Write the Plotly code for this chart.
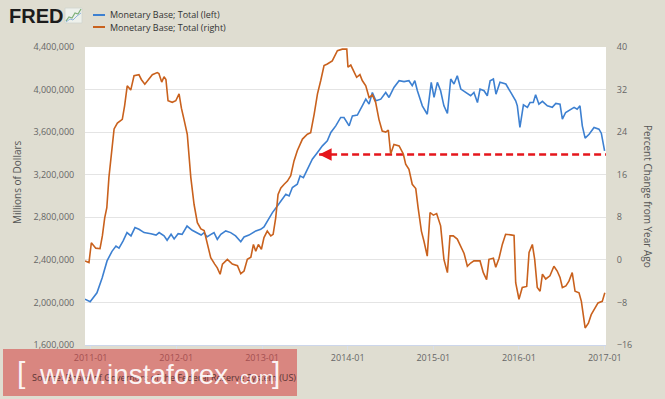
import plotly.graph_objects as go

# ---------------- data ----------------
base_dates = ["2010-12-08","2010-12-30","2011-01-28","2011-02-19","2011-03-12","2011-04-02","2011-04-19","2011-05-02",
"2011-05-19","2011-06-05","2011-06-22","2011-07-09","2011-07-26","2011-08-17","2011-09-15","2011-10-07","2011-10-20",
"2011-11-10","2011-11-23","2011-12-10","2011-12-23","2012-01-09","2012-01-26","2012-02-16","2012-03-09","2012-03-30",
"2012-04-16","2012-04-29","2012-05-11","2012-06-02","2012-06-10","2012-06-24","2012-07-09","2012-07-30","2012-08-20",
"2012-09-10","2012-10-02","2012-10-16","2012-11-06","2012-12-05","2012-12-26","2013-01-09","2013-01-23","2013-02-14",
"2013-03-07","2013-03-28","2013-04-12","2013-04-26","2013-05-10","2013-05-31","2013-06-12","2013-06-26","2013-07-13",
"2013-08-03","2013-08-25","2013-09-15","2013-10-06","2013-10-21","2013-11-11","2013-12-02","2013-12-16","2014-01-07",
"2014-01-21","2014-02-11","2014-03-04","2014-03-19","2014-04-02","2014-04-16","2014-05-01","2014-05-22","2014-06-12",
"2014-06-26","2014-07-17","2014-08-08","2014-08-29","2014-09-19","2014-10-03","2014-10-14","2014-10-25","2014-11-15",
"2014-12-06","2014-12-23","2015-01-04","2015-01-18","2015-02-01","2015-02-15","2015-03-02","2015-03-16","2015-03-30",
"2015-04-13","2015-04-28","2015-05-19","2015-06-09","2015-06-23","2015-07-08","2015-07-19","2015-08-05","2015-08-19",
"2015-08-31","2015-09-14","2015-09-25","2015-10-12","2015-11-06","2015-11-27","2015-12-18","2015-12-25","2016-01-05",
"2016-01-20","2016-02-06","2016-02-17","2016-03-02","2016-03-12","2016-03-26","2016-04-10","2016-05-01","2016-05-22",
"2016-06-06","2016-06-24","2016-07-04","2016-07-18","2016-08-09","2016-08-23","2016-09-05","2016-09-17","2016-09-27",
"2016-10-09","2016-10-26","2016-11-16","2016-12-07","2016-12-17","2016-12-31"]
base_values = [2030000,2007000,2090000,2230000,2390000,2480000,2530000,2510000,
2577000,2656000,2625000,2703000,2687000,2656000,2646000,2633000,2656000,
2625000,2584000,2640000,2597000,2646000,2640000,2718000,2678000,2656000,
2633000,2656000,2615000,2646000,2656000,2593000,2640000,2672000,2656000,
2625000,2571000,2615000,2633000,2672000,2687000,2709000,2765000,2844000,
2906000,2969000,3016000,3000000,3080000,3111000,3189000,3173000,3252000,
3346000,3409000,3471000,3518000,3597000,3659000,3738000,3738000,3659000,
3753000,3760000,3847000,3910000,3863000,3973000,3894000,3910000,3973000,
3926000,4020000,4083000,4075000,4083000,4036000,4083000,3989000,3847000,
3768000,4068000,3926000,4068000,3989000,3847000,3776000,4099000,4052000,
4130000,4005000,3973000,3942000,3973000,3878000,4005000,3989000,3942000,
4083000,4099000,3957000,4068000,4052000,3973000,3894000,3847000,3644000,
3857000,3832000,3878000,3878000,3951000,3863000,3889000,3847000,3833000,
3870000,3863000,3722000,3785000,3816000,3833000,3816000,3847000,3659000,
3544000,3580000,3644000,3628000,3590000,3424000]

yoy_dates = ["2010-12-08","2010-12-25","2011-01-04","2011-01-23","2011-02-10","2011-02-20","2011-03-02","2011-03-11",
"2011-03-20","2011-03-30","2011-04-11","2011-04-25","2011-05-16","2011-05-26","2011-06-06","2011-06-21","2011-07-05",
"2011-07-26","2011-08-05","2011-08-20","2011-09-07","2011-09-21","2011-10-12","2011-10-19","2011-10-31","2011-11-10",
"2011-11-18","2011-11-27","2011-12-15","2011-12-30","2012-01-13","2012-01-23","2012-02-03","2012-02-17","2012-03-03",
"2012-03-17","2012-03-31","2012-04-15","2012-04-29","2012-05-13","2012-05-27","2012-06-13","2012-06-24","2012-07-06",
"2012-07-16","2012-08-06","2012-08-27","2012-09-18","2012-10-02","2012-10-16","2012-10-30","2012-11-14","2012-11-25",
"2012-12-05","2012-12-16","2012-12-29","2013-01-09","2013-01-23","2013-02-07","2013-02-17","2013-02-28","2013-03-10",
"2013-03-22","2013-04-05","2013-04-19","2013-05-03","2013-05-17","2013-05-31","2013-06-22","2013-07-13","2013-07-27",
"2013-08-11","2013-08-25","2013-09-08","2013-09-22","2013-10-06","2013-10-27","2013-11-18","2013-12-09","2013-12-28",
"2014-01-02","2014-01-14","2014-01-25","2014-02-08","2014-02-22","2014-03-04","2014-03-19","2014-04-02","2014-04-16",
"2014-04-30","2014-05-14","2014-05-28","2014-06-12","2014-06-23","2014-07-03","2014-07-17","2014-08-08","2014-08-26",
"2014-09-05","2014-09-19","2014-10-03","2014-10-18","2014-10-28","2014-11-11","2014-11-22","2014-12-06","2014-12-18",
"2015-01-01","2015-01-15","2015-02-01","2015-02-15","2015-03-02","2015-03-13","2015-03-27","2015-04-13","2015-04-28",
"2015-05-12","2015-05-26","2015-06-09","2015-06-23","2015-07-19","2015-08-02","2015-08-16","2015-08-26","2015-09-14",
"2015-09-24","2015-10-08","2015-10-22","2015-11-05","2015-11-27","2015-12-11","2015-12-18","2016-01-01","2016-01-15",
"2016-02-03","2016-02-13","2016-02-27","2016-03-08","2016-03-19","2016-03-31","2016-04-10","2016-04-24","2016-05-12",
"2016-05-29","2016-06-12","2016-06-24","2016-07-04","2016-07-19","2016-08-01","2016-08-15","2016-08-27","2016-09-13",
"2016-09-23","2016-10-09","2016-10-23","2016-11-04","2016-11-20","2016-12-03","2016-12-21","2017-01-01"]
yoy_values = [-0.2,-0.5,3.2,2.2,2.1,4.5,7.9,9.8,
15.5,19.9,24.6,25.7,26.4,29.0,32.7,31.9,34.6,
34.8,33.9,33.0,33.9,34.8,35.2,35.0,33.4,34.4,
33.9,29.9,29.6,29.9,31.2,28.5,26.4,23.6,15.5,
10.4,7.0,5.8,5.5,2.9,0.4,-0.8,-1.5,-2.7,
-0.8,0.1,-0.8,-1.1,-2.6,-2.1,0.1,0.5,2.9,
1.6,2.9,2.0,4.2,5.4,4.5,4.8,7.9,12.3,
13.5,14.2,14.8,15.8,18.6,20.5,22.7,23.6,23.9,
27.4,31.2,33.7,36.5,36.8,37.4,39.3,39.6,39.6,
36.2,36.6,35.5,34.3,34.8,33.7,32.7,30.5,31.0,
29.6,26.4,24.2,24.0,24.4,19.9,21.7,21.4,19.9,
18.0,17.0,14.2,13.4,9.8,5.4,3.5,0.7,8.9,
8.4,8.7,6.4,0.1,-2.4,4.5,4.5,3.9,2.6,
1.2,-1.2,-0.6,-0.2,-0.2,-2.4,-3.7,0.1,0.3,
-1.4,0.3,2.9,4.8,4.7,4.6,-4.3,-7.4,-5.2,
-5.0,1.4,2.9,0.1,-5.2,-5.9,-2.7,-3.6,-3.0,
-1.2,-2.1,-3.3,-5.2,-4.9,-4.0,-2.4,-5.9,-6.2,
-7.8,-12.8,-11.9,-10.3,-9.0,-8.1,-7.8,-6.2]

x_tick_vals = ["2011-01-01","2012-01-01","2013-01-01","2014-01-01","2015-01-01","2016-01-01","2017-01-01"]
x_tick_text = ["2011-01","2012-01","2013-01","2014-01","2015-01","2016-01","2017-01"]
left_ticks = [1600000,2000000,2400000,2800000,3200000,3600000,4000000,4400000]
right_ticks = [-16,-8,0,8,16,24,32,40]

series_names = ["Monetary Base; Total (left)", "Monetary Base; Total (right)"]
arrow_level = 3390000
arrow_tip_date = "2013-09-01"
arrow_end_date = "2017-01-06"

# ---------------- style ----------------
BLUE = "#3D80D1"
ORANGE = "#C9611D"
RED = "#E5161C"
BG = "#DFDDD1"
FONT = "Open Sans"
WM_FONT = "Liberation Sans"

W, H = 665, 399
L, R, T, B = 85, 606, 47, 345

def px(x):
    return (x - L) / (R - L)

def py(y):
    return (B - y) / (B - T)

fig = go.Figure()
fig.add_trace(go.Scatter(x=base_dates, y=base_values, mode="lines", name=series_names[0],
                         line=dict(color=BLUE, width=1.6), yaxis="y", showlegend=False))
fig.add_trace(go.Scatter(x=yoy_dates, y=yoy_values, mode="lines", name=series_names[1],
                         line=dict(color=ORANGE, width=1.6), yaxis="y2", showlegend=False))
# red dashed arrow shaft
fig.add_trace(go.Scatter(x=[arrow_tip_date, arrow_end_date], y=[arrow_level, arrow_level], mode="lines",
                         line=dict(color=RED, width=2.5, dash="7px,4px"), yaxis="y", showlegend=False,
                         hoverinfo="skip"))

WM_COL = "rgba(255,255,255,0.92)"
annotations = [
    # arrow head
    dict(x=arrow_tip_date, y=arrow_level, xref="x", yref="y", ax="2013-10-10", ay=arrow_level,
         axref="x", ayref="y", text="", showarrow=True, arrowhead=2, arrowsize=1.0, arrowwidth=2.5,
         arrowcolor=RED, standoff=0),
    # FRED logo
    dict(x=px(7), y=py(16), xref="paper", yref="paper", xanchor="left", yanchor="middle",
         text="<b>FRED</b>", showarrow=False, font=dict(family="Liberation Sans", size=20, color="#1c1c1c")),
    # legend texts
    dict(x=px(108), y=py(15), xref="paper", yref="paper", xanchor="left", yanchor="middle",
         text=series_names[0], showarrow=False, font=dict(family=FONT, size=9, color="#333333")),
    dict(x=px(108), y=py(27), xref="paper", yref="paper", xanchor="left", yanchor="middle",
         text=series_names[1], showarrow=False, font=dict(family=FONT, size=9, color="#333333")),
    # axis titles
    dict(x=px(17), y=py(182), xref="paper", yref="paper", xanchor="center", yanchor="middle",
         text="Millions of Dollars", textangle=-90, showarrow=False, font=dict(family=FONT, size=10, color="#555555")),
    dict(x=px(648), y=py(196), xref="paper", yref="paper", xanchor="center", yanchor="middle",
         text="Percent Change from Year Ago", textangle=90, showarrow=False, font=dict(family=FONT, size=10, color="#555555")),
    # source
    dict(x=px(30), y=py(378), xref="paper", yref="paper", xanchor="left", yanchor="middle",
         text="Source: Board of Governors of the Federal Reserve System (US)", showarrow=False,
         font=dict(family=FONT, size=9, color="#5a3434")),
    # watermark pieces
    dict(x=px(21), y=py(372), xref="paper", yref="paper", xanchor="center", yanchor="middle",
         text="[", showarrow=False, font=dict(family=WM_FONT, size=30, color=WM_COL)),
    dict(x=px(37), y=py(374), xref="paper", yref="paper", xanchor="left", yanchor="middle",
         text="www.instaforex", showarrow=False, font=dict(family=WM_FONT, size=28, color=WM_COL)),
    dict(x=px(233), y=py(378), xref="paper", yref="paper", xanchor="left", yanchor="middle",
         text=".com", showarrow=False, font=dict(family=WM_FONT, size=18, color=WM_COL)),
    dict(x=px(276), y=py(372), xref="paper", yref="paper", xanchor="center", yanchor="middle",
         text="]", showarrow=False, font=dict(family=WM_FONT, size=30, color=WM_COL)),
]

shapes = [
    # legend samples
    dict(type="line", xref="paper", yref="paper", x0=px(93), x1=px(105), y0=py(15), y1=py(15),
         line=dict(color=BLUE, width=2)),
    dict(type="line", xref="paper", yref="paper", x0=px(93), x1=px(105), y0=py(27), y1=py(27),
         line=dict(color=ORANGE, width=2)),
    # FRED icon
    dict(type="rect", xref="paper", yref="paper", x0=px(65), x1=px(82), y0=py(23), y1=py(8),
         fillcolor="#eef1ec", line=dict(color="#cfd6cf", width=0.8)),
    dict(type="path", xref="paper", yref="paper",
         path=f"M {px(66)},{py(21)} L {px(69)},{py(17)} L {px(72)},{py(18)} L {px(75)},{py(13)} L {px(78)},{py(14)} L {px(81)},{py(9)}",
         line=dict(color="#7fb07a", width=1.2)),
    dict(type="path", xref="paper", yref="paper",
         path=f"M {px(66)},{py(22)} L {px(70)},{py(19)} L {px(73)},{py(20)} L {px(77)},{py(16)} L {px(81)},{py(13)}",
         line=dict(color="#8fb3d9", width=1)),
    # watermark box
    dict(type="rect", xref="paper", yref="paper", x0=px(3), x1=px(297), y0=py(396), y1=py(349),
         fillcolor="rgba(212,62,62,0.55)", line=dict(width=0), layer="above"),
]

fig.update_layout(
    width=W, height=H,
    margin=dict(l=L, r=W - R, t=T, b=H - B, pad=0),
    paper_bgcolor=BG, plot_bgcolor="#FFFFFF",
    font=dict(family=FONT, size=9, color="#666666"),
    showlegend=False,
    hovermode=False,
    xaxis=dict(type="date", range=["2010-12-08", "2017-01-06"], tickvals=x_tick_vals, ticktext=x_tick_text,
               showgrid=False, zeroline=False, showline=True, linecolor="#CCD6EB", linewidth=1,
               ticks="outside", ticklen=4, tickcolor="#D8DEE8", tickfont=dict(size=9, color="#666666")),
    yaxis=dict(range=[1600000, 4400000], tickvals=left_ticks, tickformat=",", showgrid=True,
               gridcolor="#E4E4E4", gridwidth=1, zeroline=False, ticks="outside", ticklen=8,
               tickcolor="rgba(0,0,0,0)", tickfont=dict(size=9, color="#666666")),
    yaxis2=dict(range=[-16, 40], tickvals=right_ticks, overlaying="y", side="right", showgrid=False,
                zeroline=False, ticks="outside", ticklen=8, tickcolor="rgba(0,0,0,0)",
                tickfont=dict(size=9, color="#666666")),
    annotations=annotations,
    shapes=shapes,
)

fig.write_html("out.html", config={"displayModeBar": False},
               post_script="document.body.style.margin='0px';document.body.style.overflow='hidden';")
